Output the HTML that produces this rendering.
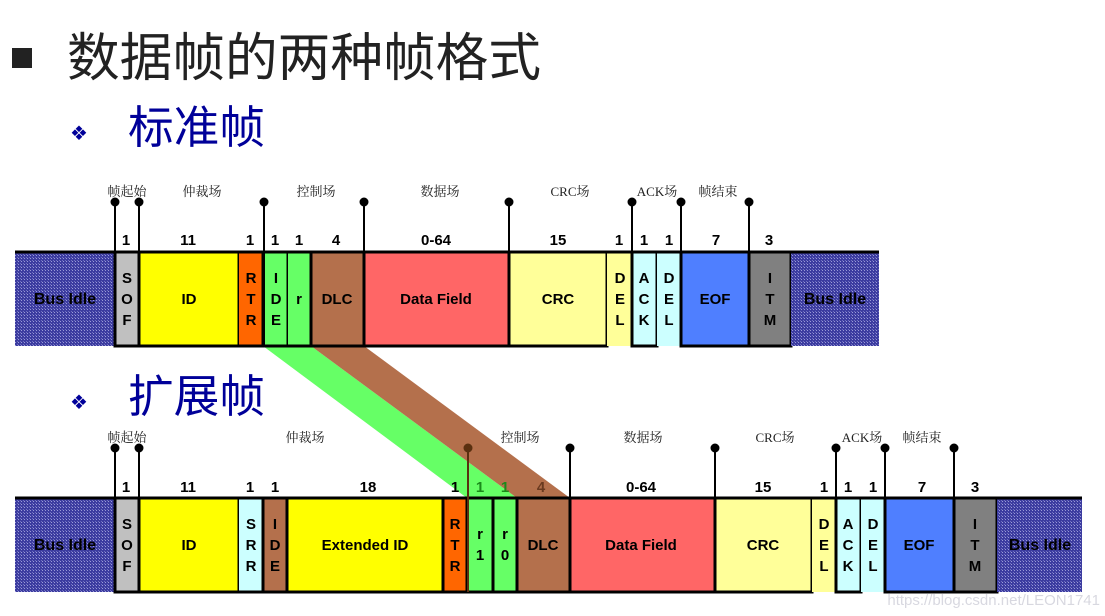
<!DOCTYPE html>
<html><head><meta charset="utf-8"><style>
html,body{margin:0;padding:0;background:#fff;width:1105px;height:616px;overflow:hidden}
svg{display:block}
.b{font-family:"Liberation Sans","Noto Sans CJK SC",sans-serif;font-weight:bold;font-size:15px;fill:#000;text-anchor:middle}
.l{font-family:"Liberation Serif","Noto Serif CJK SC",serif;font-size:13px;fill:#222;text-anchor:middle}
</style></head><body>
<svg width="1105" height="616" viewBox="0 0 1105 616" xmlns="http://www.w3.org/2000/svg">
<defs>
<pattern id="h" width="3" height="3" patternUnits="userSpaceOnUse">
<rect width="3" height="3" fill="#3c3ca0"/><rect width="1" height="1" fill="#9a9ad8"/><rect x="2" y="2" width="1" height="1" fill="#7070c0"/>
</pattern>
</defs>
<rect x="12" y="48" width="20" height="20" fill="#222"/>
<text x="67" y="76" font-family="'Liberation Sans','Noto Sans CJK SC',sans-serif" font-size="52" fill="#222" textLength="474" lengthAdjust="spacingAndGlyphs">数据帧的两种帧格式</text>
<text x="70" y="140" font-family="'DejaVu Sans',sans-serif" font-size="20" fill="#000099">❖</text>
<text x="128" y="143" font-family="'Liberation Sans','Noto Sans CJK SC',sans-serif" font-size="45" fill="#000099" textLength="137" lengthAdjust="spacingAndGlyphs">标准帧</text>
<text x="70" y="409" font-family="'DejaVu Sans',sans-serif" font-size="20" fill="#000099">❖</text>
<text x="128" y="412" font-family="'Liberation Sans','Noto Sans CJK SC',sans-serif" font-size="45" fill="#000099" textLength="137" lengthAdjust="spacingAndGlyphs">扩展帧</text>

<polygon points="263,346 311,346 517,498 467,498" fill="#66ff66"/>
<polygon points="311,346 364,346 570,498 517,498" fill="#b4704c"/>

<g stroke="#000" stroke-width="3">
<rect x="15" y="252" width="100" height="94" fill="url(#h)" stroke="none"/>
<rect x="115" y="252" width="24" height="94" fill="#c0c0c0"/>
<rect x="139" y="252" width="100" height="94" fill="#ffff00"/>
<rect x="239" y="252" width="24" height="94" fill="#ff6600" stroke="none"/>
<rect x="263" y="252" width="25" height="94" fill="#66ff66"/>
<rect x="288" y="252" width="23" height="94" fill="#66ff66" stroke="none"/>
<rect x="311" y="252" width="53" height="94" fill="#b4704c"/>
<rect x="364" y="252" width="145" height="94" fill="#ff6666"/>
<rect x="509" y="252" width="98" height="94" fill="#ffff99"/>
<rect x="607" y="252" width="25" height="94" fill="#ffff99" stroke="none"/>
<rect x="632" y="252" width="25" height="94" fill="#ccffff"/>
<rect x="657" y="252" width="24" height="94" fill="#ccffff" stroke="none"/>
<rect x="681" y="252" width="68" height="94" fill="#4f7fff"/>
<rect x="749" y="252" width="42" height="94" fill="#808080"/>
<rect x="791" y="252" width="88" height="94" fill="url(#h)" stroke="none"/>
<line x1="15" y1="252" x2="879" y2="252"/>
<line x1="115" y1="346" x2="607" y2="346"/>
</g>
<g stroke="#000" stroke-width="2" fill="#000">
<line x1="115" y1="202" x2="115" y2="252"/><circle cx="115" cy="202" r="3.5"/>
<line x1="139" y1="202" x2="139" y2="252"/><circle cx="139" cy="202" r="3.5"/>
<line x1="264" y1="202" x2="264" y2="346"/><circle cx="264" cy="202" r="3.5"/>
<line x1="364" y1="202" x2="364" y2="252"/><circle cx="364" cy="202" r="3.5"/>
<line x1="509" y1="202" x2="509" y2="252"/><circle cx="509" cy="202" r="3.5"/>
<line x1="632" y1="202" x2="632" y2="346"/><circle cx="632" cy="202" r="3.5"/>
<line x1="681" y1="202" x2="681" y2="346"/><circle cx="681" cy="202" r="3.5"/>
<line x1="749" y1="202" x2="749" y2="346"/><circle cx="749" cy="202" r="3.5"/>
</g>
<g class="l">
<text x="127" y="196">帧起始</text><text x="202" y="196">仲裁场</text><text x="316" y="196">控制场</text>
<text x="440" y="196">数据场</text><text x="570" y="196">CRC场</text><text x="657" y="196">ACK场</text><text x="718" y="196">帧结束</text>
</g>
<g class="b">
<text x="126" y="245">1</text><text x="188" y="245">11</text><text x="250" y="245">1</text><text x="275" y="245">1</text>
<text x="299" y="245">1</text><text x="336" y="245">4</text><text x="436" y="245">0-64</text><text x="558" y="245">15</text>
<text x="619" y="245">1</text><text x="644" y="245">1</text><text x="669" y="245">1</text><text x="716" y="245">7</text><text x="769" y="245">3</text>
<text x="65" y="304" font-size="16">Bus Idle</text>
<text x="127" y="283">S</text><text x="127" y="304">O</text><text x="127" y="325">F</text>
<text x="189" y="304">ID</text>
<text x="251" y="283">R</text><text x="251" y="304">T</text><text x="251" y="325">R</text>
<text x="276" y="283">I</text><text x="276" y="304">D</text><text x="276" y="325">E</text>
<text x="299" y="304">r</text>
<text x="337" y="304">DLC</text>
<text x="436" y="304">Data Field</text>
<text x="558" y="304">CRC</text>
<text x="620" y="283">D</text><text x="620" y="304">E</text><text x="620" y="325">L</text>
<text x="644" y="283">A</text><text x="644" y="304">C</text><text x="644" y="325">K</text>
<text x="669" y="283">D</text><text x="669" y="304">E</text><text x="669" y="325">L</text>
<text x="715" y="304">EOF</text>
<text x="770" y="283">I</text><text x="770" y="304">T</text><text x="770" y="325">M</text>
<text x="835" y="304" font-size="16">Bus Idle</text>
</g>

<g stroke="#000" stroke-width="3">
<rect x="15" y="498" width="100" height="94" fill="url(#h)" stroke="none"/>
<rect x="115" y="498" width="24" height="94" fill="#c0c0c0"/>
<rect x="139" y="498" width="100" height="94" fill="#ffff00"/>
<rect x="239" y="498" width="24" height="94" fill="#ccffff" stroke="none"/>
<rect x="263" y="498" width="24" height="94" fill="#b4704c"/>
<rect x="287" y="498" width="156" height="94" fill="#ffff00"/>
<rect x="443" y="498" width="24" height="94" fill="#ff6600"/>
<rect x="467" y="498" width="26" height="94" fill="#66ff66"/>
<rect x="493" y="498" width="24" height="94" fill="#66ff66"/>
<rect x="517" y="498" width="53" height="94" fill="#b4704c"/>
<rect x="570" y="498" width="145" height="94" fill="#ff6666"/>
<rect x="715" y="498" width="97" height="94" fill="#ffff99"/>
<rect x="812" y="498" width="24" height="94" fill="#ffff99" stroke="none"/>
<rect x="836" y="498" width="25" height="94" fill="#ccffff"/>
<rect x="861" y="498" width="24" height="94" fill="#ccffff" stroke="none"/>
<rect x="885" y="498" width="69" height="94" fill="#4f7fff"/>
<rect x="954" y="498" width="43" height="94" fill="#808080"/>
<rect x="997" y="498" width="85" height="94" fill="url(#h)" stroke="none"/>
<line x1="15" y1="498" x2="1082" y2="498"/>
<line x1="115" y1="592" x2="812" y2="592"/>
</g>
<g stroke="#000" stroke-width="2" fill="#000">
<line x1="115" y1="448" x2="115" y2="498"/><circle cx="115" cy="448" r="3.5"/>
<line x1="139" y1="448" x2="139" y2="498"/><circle cx="139" cy="448" r="3.5"/>
<line x1="468" y1="448" x2="468" y2="592" stroke="#5a3010"/><circle cx="468" cy="448" r="3.5" fill="#5a3010" stroke="#5a3010"/>
<line x1="570" y1="448" x2="570" y2="498"/><circle cx="570" cy="448" r="3.5"/>
<line x1="715" y1="448" x2="715" y2="498"/><circle cx="715" cy="448" r="3.5"/>
<line x1="836" y1="448" x2="836" y2="592"/><circle cx="836" cy="448" r="3.5"/>
<line x1="885" y1="448" x2="885" y2="592"/><circle cx="885" cy="448" r="3.5"/>
<line x1="954" y1="448" x2="954" y2="592"/><circle cx="954" cy="448" r="3.5"/>
</g>
<g class="l">
<text x="127" y="442">帧起始</text><text x="305" y="442">仲裁场</text><text x="520" y="442">控制场</text>
<text x="643" y="442">数据场</text><text x="775" y="442">CRC场</text><text x="862" y="442">ACK场</text><text x="922" y="442">帧结束</text>
</g>
<g class="b">
<text x="126" y="492">1</text><text x="188" y="492">11</text><text x="250" y="492">1</text><text x="275" y="492">1</text>
<text x="368" y="492">18</text><text x="455" y="492">1</text><text x="480" y="492" fill="#1a8a1a">1</text><text x="505" y="492" fill="#1a8a1a">1</text>
<text x="541" y="492" fill="#6a3a20">4</text><text x="641" y="492">0-64</text><text x="763" y="492">15</text>
<text x="824" y="492">1</text><text x="848" y="492">1</text><text x="873" y="492">1</text><text x="922" y="492">7</text><text x="975" y="492">3</text>
<text x="65" y="550" font-size="16">Bus Idle</text>
<text x="127" y="529">S</text><text x="127" y="550">O</text><text x="127" y="571">F</text>
<text x="189" y="550">ID</text>
<text x="251" y="529">S</text><text x="251" y="550">R</text><text x="251" y="571">R</text>
<text x="275" y="529">I</text><text x="275" y="550">D</text><text x="275" y="571">E</text>
<text x="365" y="550">Extended ID</text>
<text x="455" y="529">R</text><text x="455" y="550">T</text><text x="455" y="571">R</text>
<text x="480" y="539">r</text><text x="480" y="560">1</text>
<text x="505" y="539">r</text><text x="505" y="560">0</text>
<text x="543" y="550">DLC</text>
<text x="641" y="550">Data Field</text>
<text x="763" y="550">CRC</text>
<text x="824" y="529">D</text><text x="824" y="550">E</text><text x="824" y="571">L</text>
<text x="848" y="529">A</text><text x="848" y="550">C</text><text x="848" y="571">K</text>
<text x="873" y="529">D</text><text x="873" y="550">E</text><text x="873" y="571">L</text>
<text x="919" y="550">EOF</text>
<text x="975" y="529">I</text><text x="975" y="550">T</text><text x="975" y="571">M</text>
<text x="1040" y="550" font-size="16">Bus Idle</text>
</g>
<text x="1100" y="605" text-anchor="end" font-family="'Liberation Sans',sans-serif" font-size="15" fill="#d8d8e0">https://blog.csdn.net/LEON1741</text>
</svg>
</body></html>
